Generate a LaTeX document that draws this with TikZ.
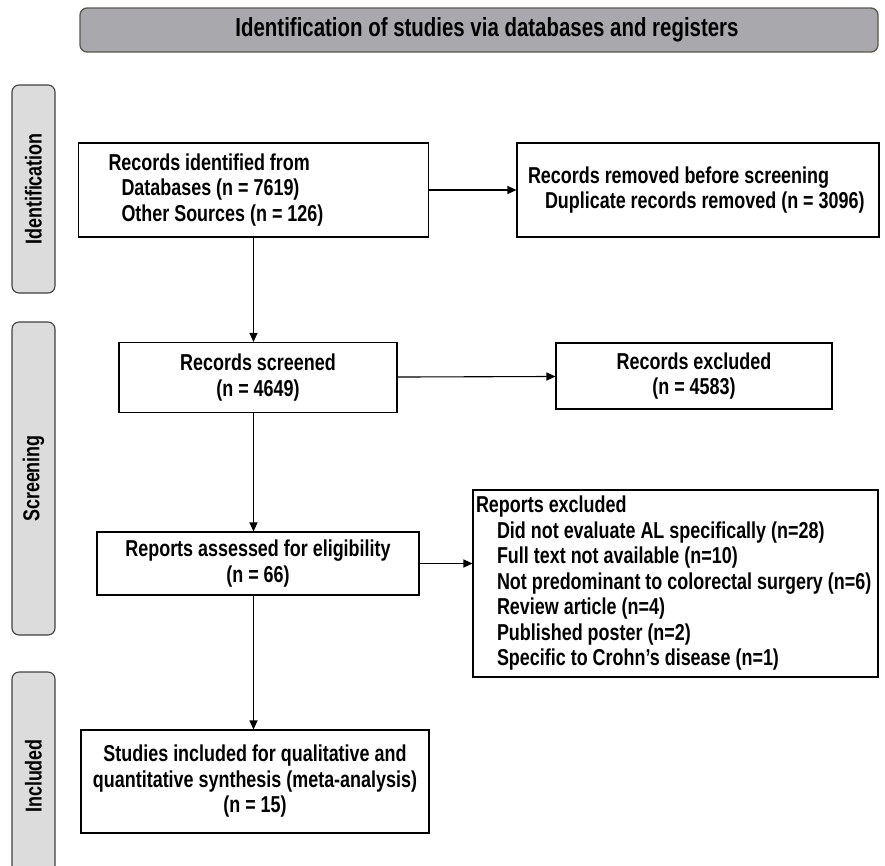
\documentclass[tikz,border=0pt]{standalone}
\usepackage{fontspec}
\setmainfont{Liberation Sans}[FakeStretch=0.78]
\usetikzlibrary{arrows.meta,positioning}
\definecolor{bannergray}{HTML}{A9A8AC}
\definecolor{bannerline}{HTML}{5B574E}
\definecolor{stagegray}{HTML}{DCDCDC}

\begin{document}
\begin{tikzpicture}[x=1pt,y=-1pt,
  box/.style={draw,line width=1.1pt,fill=white,inner sep=0pt,align=center,
    font=\bfseries\fontsize{23}{25.5}\selectfont},
  listbox/.style={box,align=flush left},
  stage/.style={draw=black!75,line width=1.1pt,rounded corners=7pt,fill=stagegray,
    rotate=90,minimum height=43pt,inner sep=0pt,font=\bfseries\fontsize{23}{26}\selectfont},
  link/.style={-{Triangle[length=9pt,width=8pt]},line width=1.1pt}
]
\useasboundingbox (0,0) rectangle (885,865);

% header and stage tabs
\node[draw=bannerline,line width=1.3pt,rounded corners=7pt,fill=bannergray,
  minimum width=798pt,minimum height=44pt,inner sep=0pt,
  font=\bfseries\fontsize{26.2}{30}\selectfont] (banner) at (479,30)
  {\hspace*{16pt}Identification of studies via databases and registers};
\node[stage,minimum width=208pt] (identification) at (33.5,189) {Identification};
\node[stage,minimum width=313pt] (screening) at (33.5,478.5) {Screening};
\node[stage,minimum width=208pt] (included) at (33.5,776) {Included};

% flow boxes
\node[listbox,minimum width=350pt,minimum height=94pt,text width=320pt,inner xsep=15pt] (identified) at (253.5,190)
  {\hspace*{15pt}Records identified from\\
   \hspace*{28pt}Databases (n = 7619)\\
   \hspace*{28pt}Other Sources (n = 126)};
\node[listbox,minimum width=362pt,minimum height=94pt,text width=350pt,inner xsep=6pt] (removed) at (698,190)
  {\hspace*{5pt}Records removed before screening\\
   \hspace*{22pt}Duplicate records removed (n = 3096)};
\node[box,minimum width=278pt,minimum height=70pt] (screened) at (258,377.5)
  {Records screened\\(n = 4649)};
\node[box,minimum width=276pt,minimum height=66pt] (excluded) at (694,376)
  {Records excluded\\(n = 4583)};
\node[box,minimum width=322pt,minimum height=63pt] (assessed) at (258,563.5)
  {Reports assessed for eligibility\\(n = 66)};
\node[listbox,minimum width=405pt,minimum height=187pt,text width=401pt,inner xsep=2pt] (reportsout) at (675.5,583.5)
  {\hspace*{1pt}Reports excluded\\
   \hspace*{22pt}Did not evaluate AL specifically (n=28)\\
   \hspace*{22pt}Full text not available (n=10)\\
   \hspace*{22pt}Not predominant to colorectal surgery (n=6)\\
   \hspace*{22pt}Review article (n=4)\\
   \hspace*{22pt}Published poster (n=2)\\
   \hspace*{22pt}Specific to Crohn’s disease (n=1)};
\node[box,minimum width=348pt,minimum height=103pt] (studies) at (255,781.5)
  {Studies included for qualitative and\\quantitative synthesis (meta-analysis)\\(n = 15)};

% connectors
\draw[link] (identified.south) -- (identified.south |- screened.north);
\draw[link] (identified) -- (removed);
\draw[link] (screened) -- (excluded);
\draw[link] (identified.south |- screened.south) -- (identified.south |- assessed.north);
\draw[link] (assessed.east) -- (assessed.east -| reportsout.west);
\draw[link] (identified.south |- assessed.south) -- (identified.south |- studies.north);
\end{tikzpicture}
\end{document}
